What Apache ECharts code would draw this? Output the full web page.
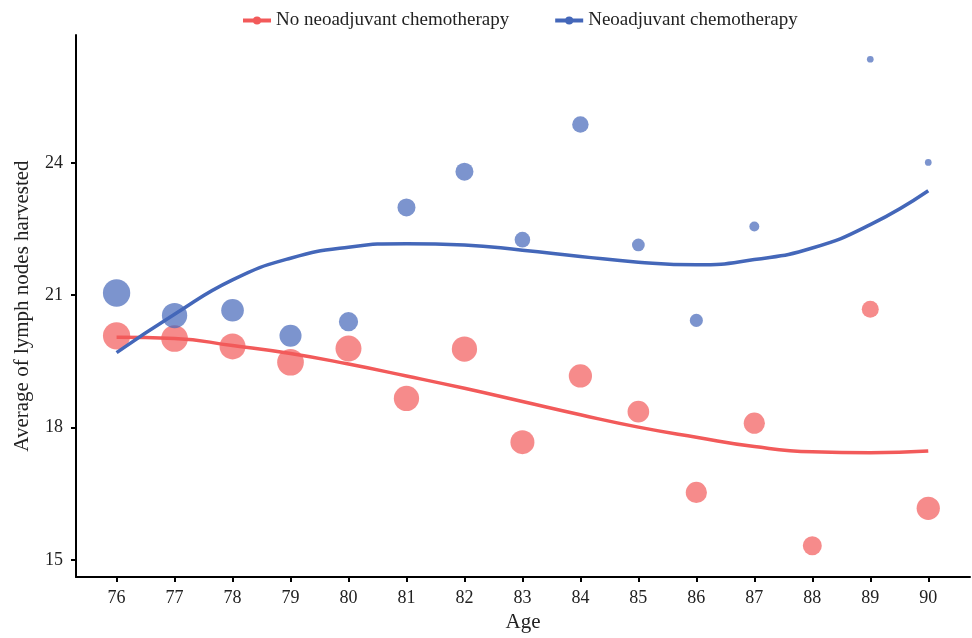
<!DOCTYPE html>
<html>
<head>
<meta charset="utf-8">
<script src="https://cdn.jsdelivr.net/npm/echarts@6/dist/echarts.min.js"></script>
<style>
  html, body { margin: 0; padding: 0; background: #fff; }
  #main { width: 972px; height: 638px; }
</style>
</head>
<body>
<div id="main"></div>
<script>
const ages = [76, 77, 78, 79, 80, 81, 82, 83, 84, 85, 86, 87, 88, 89, 90]
const yTicks = [15, 18, 21, 24]

// mean lymph nodes per age
const noNeoMean = [20.08, 20.02, 19.84, 19.48, 19.79, 18.66, 19.78, 17.67, 19.17, 18.36, 16.53, 18.10, 15.32, 20.68, 16.17]
const neoMean = [21.05, 20.54, 20.66, 20.08, 20.40, 22.99, 23.80, 22.26, 24.87, 22.14, 20.43, 22.56, null, 26.35, 24.01]

// patients per age (bubble size)
const noNeoN = [83, 79, 75, 79, 75, 71, 71, 64, 60, 52, 50, 50, 40, 32, 60]
const neoN = [83, 71, 57, 54, 41, 36, 36, 27, 30, 18, 19, 11, null, 5, 5]

// smoothed trend
const noNeoFit = [20.05, 20.02, 19.86, 19.68, 19.44, 19.17, 18.89, 18.59, 18.29, 18.01, 17.78, 17.57, 17.45, 17.43, 17.47]
const neoFit = [19.70, 20.57, 21.35, 21.84, 22.09, 22.17, 22.14, 22.02, 21.88, 21.75, 21.69, 21.81, 22.07, 22.60, 23.37]

const redLine = '#f25a5a'
const blueLine = '#4467b9'
const font = '"Liberation Serif", "Times New Roman", serif'

const pts = (vals, ns) => ages.map((a, i) => [a, vals[i], ns[i]]).filter(d => d[1] != null)
const sizeOf = d => 3 * Math.sqrt(d[2])

const chart = echarts.init(document.getElementById('main'))
const option = {
  backgroundColor: '#fff',
  textStyle: { fontFamily: font, color: '#222' },
  legend: {
    left: 236,
    top: 6,
    itemWidth: 28,
    itemHeight: 10,
    itemGap: 44,
    lineStyle: { width: 4 },
    textStyle: { fontFamily: font, fontSize: 19, color: '#222' },
    data: ['No neoadjuvant chemotherapy', 'Neoadjuvant chemotherapy']
  },
  grid: { left: 76, right: 2, top: 35, bottom: 55, containLabel: false },
  xAxis: {
    type: 'value',
    min: 75.3,
    max: 90.72,
    name: 'Age',
    nameLocation: 'middle',
    nameGap: 34,
    nameTextStyle: { fontFamily: font, fontSize: 21, color: '#222' },
    axisLine: { lineStyle: { color: '#000', width: 2 } },
    axisTick: { customValues: ages, length: 5, lineStyle: { color: '#000', width: 2 } },
    axisLabel: { customValues: ages, margin: 12, fontFamily: font, fontSize: 18, color: '#222' },
    splitLine: { show: false }
  },
  yAxis: {
    type: 'value',
    min: 14.61,
    max: 26.9,
    name: 'Average of lymph nodes harvested',
    nameLocation: 'middle',
    nameGap: 43,
    nameTextStyle: { fontFamily: font, fontSize: 21, color: '#222' },
    axisLine: { show: true, lineStyle: { color: '#000', width: 2 } },
    axisTick: { show: true, customValues: yTicks, length: 5, lineStyle: { color: '#000', width: 2 } },
    axisLabel: { customValues: yTicks, margin: 13, fontFamily: font, fontSize: 18, color: '#222' },
    splitLine: { show: false }
  },
  series: [
    {
      name: 'No neoadjuvant chemotherapy',
      type: 'line',
      data: ages.map((a, i) => [a, noNeoFit[i]]),
      smooth: true,
      symbol: 'circle',
      symbolSize: 8,
      showSymbol: false,
      z: 5,
      lineStyle: { color: redLine, width: 3.5 },
      itemStyle: { color: redLine }
    },
    {
      name: 'Neoadjuvant chemotherapy',
      type: 'line',
      data: ages.map((a, i) => [a, neoFit[i]]),
      smooth: true,
      symbol: 'circle',
      symbolSize: 8,
      showSymbol: false,
      z: 5,
      lineStyle: { color: blueLine, width: 3.5 },
      itemStyle: { color: blueLine }
    },
    {
      name: 'No neoadjuvant chemotherapy',
      type: 'scatter',
      data: pts(noNeoMean, noNeoN),
      symbolSize: sizeOf,
      z: 2,
      itemStyle: { color: redLine, opacity: 0.7 }
    },
    {
      name: 'Neoadjuvant chemotherapy',
      type: 'scatter',
      data: pts(neoMean, neoN),
      symbolSize: sizeOf,
      z: 3,
      itemStyle: { color: blueLine, opacity: 0.7 }
    }
  ]
}
option && chart.setOption(option)
</script>
</body>
</html>
